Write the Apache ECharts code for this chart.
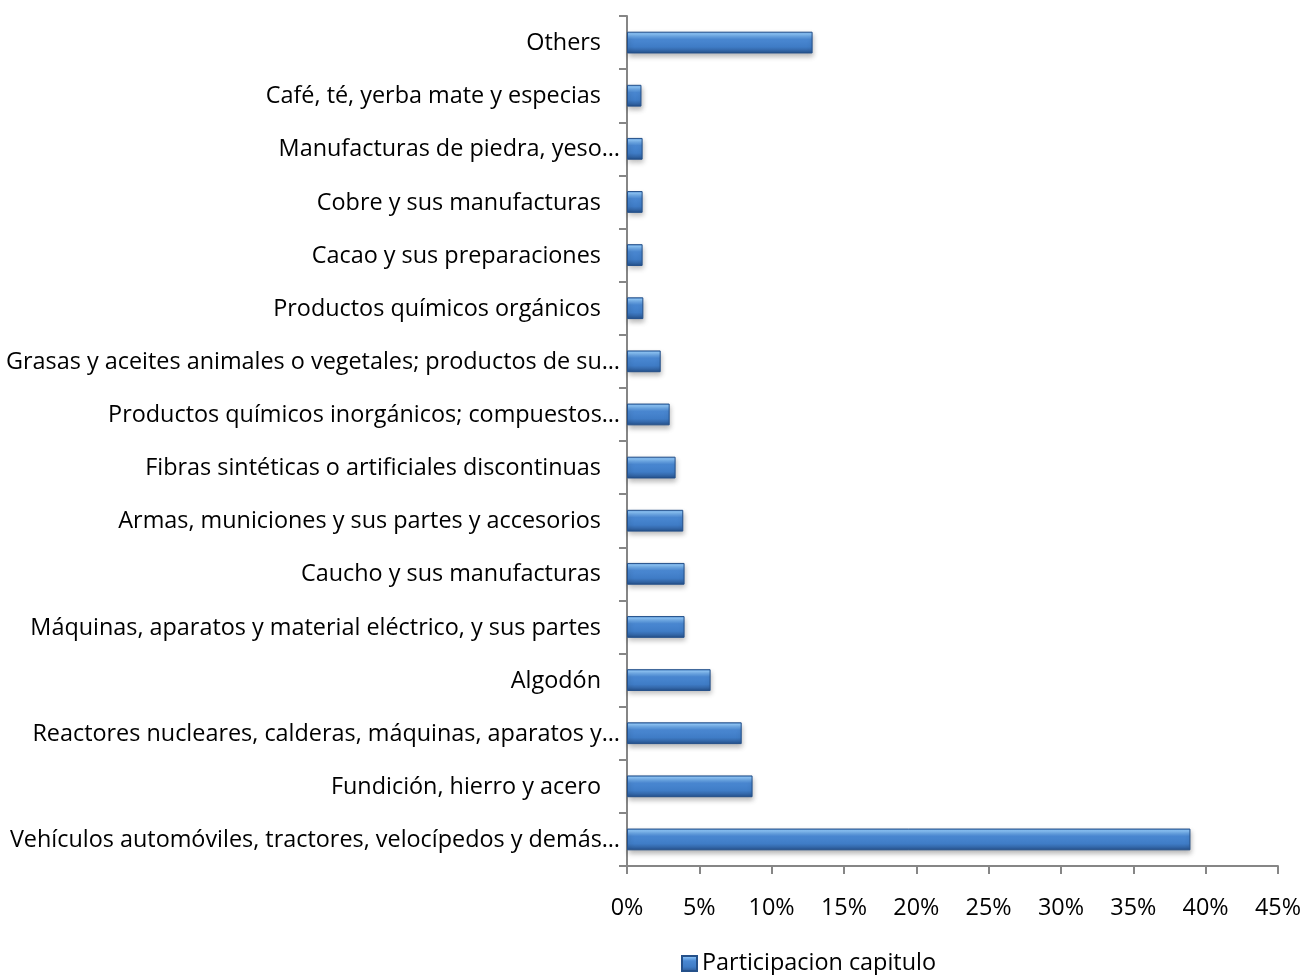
<!DOCTYPE html>
<html>
<head>
<meta charset="utf-8">
<script src="https://cdn.jsdelivr.net/npm/echarts@6/dist/echarts.min.js"></script>
<style>
html,body{margin:0;padding:0;background:#fff;}
#chart{width:1304px;height:975px;}
</style>
</head>
<body>
<div id="chart"></div>
<script>
const categories = [
  "Others",
  "Café, té, yerba mate y especias",
  "Manufacturas de piedra, yeso…",
  "Cobre y sus manufacturas",
  "Cacao y sus preparaciones",
  "Productos químicos orgánicos",
  "Grasas y aceites animales o vegetales; productos de su…",
  "Productos químicos inorgánicos; compuestos…",
  "Fibras sintéticas o artificiales discontinuas",
  "Armas, municiones y sus partes y accesorios",
  "Caucho y sus manufacturas",
  "Máquinas, aparatos y material eléctrico, y sus partes",
  "Algodón",
  "Reactores nucleares, calderas, máquinas, aparatos y…",
  "Fundición, hierro y acero",
  "Vehículos automóviles, tractores, velocípedos y demás…"
];
const participacion = [12.83, 1.0, 1.08, 1.08, 1.08, 1.13, 2.33, 2.95, 3.36, 3.89, 3.98, 3.98, 5.78, 7.93, 8.68, 38.95];
const xTicks = [0, 45, 5];
const seriesName = "Participacion capitulo";

const FONT = "Open Sans";
const FS = 23.4;
const barGrad = new echarts.graphic.LinearGradient(0, 0, 0, 1, [
  {offset: 0, color: '#5a96dc'},
  {offset: 0.1, color: '#8cc4f7'},
  {offset: 0.22, color: '#6aa6e6'},
  {offset: 0.35, color: '#4a88d2'},
  {offset: 0.7, color: '#3f7cc6'},
  {offset: 0.85, color: '#3468aa'},
  {offset: 1, color: '#234f88'}
]);

const chart = echarts.init(document.getElementById('chart'));
chart.setOption({
  animation: false,
  backgroundColor: '#ffffff',
  grid: {left: 627, right: 25, top: 16, bottom: 109, containLabel: false},
  legend: {
    data: [{name: seriesName, icon: 'rect'}],
    left: 676, top: 947,
    itemWidth: 15, itemHeight: 15, itemGap: 5,
    textStyle: {fontFamily: FONT, fontSize: FS, color: '#000'}
  },
  xAxis: {
    type: 'value', min: xTicks[0], max: xTicks[1], interval: xTicks[2],
    axisLine: {show: true, lineStyle: {color: '#868686', width: 2}},
    axisTick: {show: true, length: 8, lineStyle: {color: '#868686', width: 2}},
    splitLine: {show: false},
    axisLabel: {formatter: '{value}%', fontFamily: FONT, fontSize: FS, color: '#000', margin: 31}
  },
  yAxis: {
    type: 'category', data: categories, inverse: true,
    axisLine: {show: true, lineStyle: {color: '#868686', width: 2}},
    axisTick: {show: true, length: 8, lineStyle: {color: '#868686', width: 2}},
    axisLabel: {
      fontFamily: FONT, fontSize: FS, color: '#000', margin: 7,
      formatter: function (v) {
        return v.endsWith('…') ? '{t|' + v + '}' : '{t|' + v + '}{s|}';
      },
      rich: {
        t: {fontFamily: FONT, fontSize: FS, color: '#000', padding: [2, 0, 0, 0]},
        s: {width: 19}
      }
    }
  },
  series: [{
    name: seriesName,
    type: 'bar',
    data: participacion,
    barWidth: '41%',
    itemStyle: {
      color: barGrad,
      borderColor: '#24508a', borderWidth: 1,
      shadowColor: 'rgba(0,0,0,0.28)', shadowBlur: 5, shadowOffsetY: 3, shadowOffsetX: 1
    }
  }]
});
</script>
</body>
</html>
